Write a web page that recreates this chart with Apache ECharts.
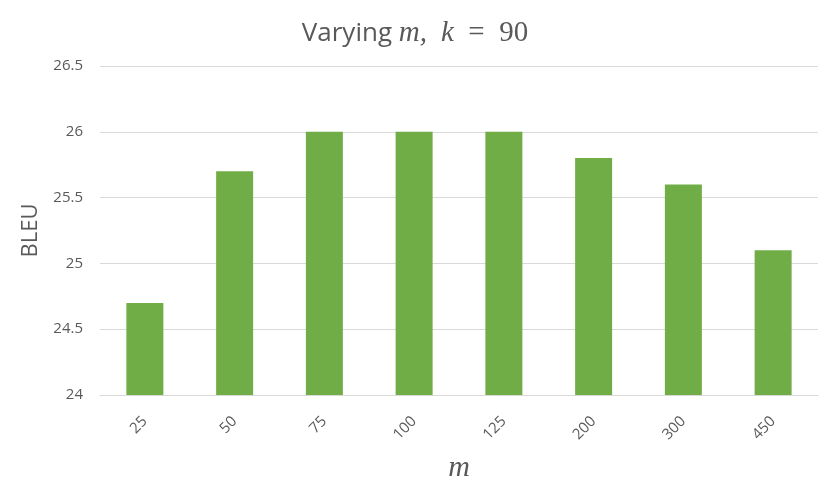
<!DOCTYPE html>
<html><head><meta charset="utf-8">
<script src="https://cdn.jsdelivr.net/npm/echarts@6/dist/echarts.min.js"></script>
<style>html,body{margin:0;padding:0;background:#fff}#c{width:830px;height:498px}</style>
</head><body><div id="c"></div>
<script>
const categories = ['25','50','75','100','125','200','300','450'];
const bleu = [24.7, 25.7, 26.0, 26.0, 26.0, 25.8, 25.6, 25.1];
const yTicks = [24, 24.5, 25, 25.5, 26, 26.5];

const chart = echarts.init(document.getElementById('c'));
chart.setOption({
  animation: false,
  title: {
    text: '{a|Varying }{b|m,}{s|}{b|k}{c|  =  90}',
    left: 'center', top: 14,
    textStyle: {
      rich: {
        a: {fontFamily: 'Open Sans', fontWeight: 'normal', fontSize: 26, color: '#595959'},
        b: {fontFamily: 'Liberation Serif', fontStyle: 'italic', fontWeight: 'normal', fontSize: 29, color: '#595959'},
        s: {width: 14},
        c: {fontFamily: 'Liberation Serif', fontWeight: 'normal', fontSize: 29, color: '#595959'}
      }
    }
  },
  grid: {left: 100, right: 12, top: 66, bottom: 103, containLabel: false},
  xAxis: {
    type: 'category', data: categories,
    name: 'm', nameLocation: 'middle', nameGap: 58,
    nameTextStyle: {fontFamily: 'Liberation Serif', fontStyle: 'italic', fontSize: 30, color: '#595959'},
    axisLine: {lineStyle: {color: '#d9d9d9'}},
    axisTick: {show: false},
    axisLabel: {rotate: 45, fontFamily: 'Open Sans', fontSize: 15, color: '#595959', margin: 24},
  },
  yAxis: {
    type: 'value', min: yTicks[0], max: yTicks[yTicks.length-1], interval: 0.5,
    name: 'BLEU', nameLocation: 'middle', nameGap: 58,
    nameTextStyle: {fontFamily: 'Open Sans', fontSize: 22, color: '#595959'},
    axisLine: {show: false}, axisTick: {show: false},
    axisLabel: {fontFamily: 'Open Sans', fontSize: 15, color: '#595959', margin: 17},
    splitLine: {lineStyle: {color: '#d9d9d9'}}
  },
  series: [{
    type: 'bar', data: bleu, barWidth: 37,
    itemStyle: {color: '#70ad47'}
  }]
});
</script></body></html>
